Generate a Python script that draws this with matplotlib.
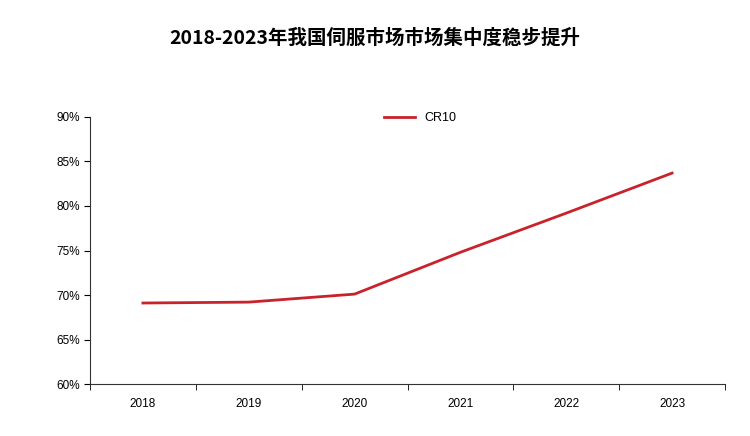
import matplotlib

matplotlib.use("Agg")

import matplotlib.pyplot as plt
import numpy as np
from matplotlib.ticker import FixedLocator

years = ["2018", "2019", "2020", "2021", "2022", "2023"]
cr10 = [69.1, 69.2, 70.1, 74.8, 79.2, 83.7]
y_ticks = [60, 65, 70, 75, 80, 85, 90]

CJK = ["Noto Sans CJK SC", "Noto Sans CJK JP", "Noto Sans CJK TC",
       "Noto Sans CJK KR", "DejaVu Sans"]

fig = plt.figure(figsize=(7.5, 4.36), dpi=100)
ax = fig.add_axes([90 / 750, 1 - 384 / 436, 635 / 750, 267 / 436])

x = np.arange(len(years))
ax.plot(x, cr10, color="#c8232c", linewidth=2, label="CR10")

ax.set_xlim(-0.5, len(years) - 0.5)
ax.set_ylim(60, 90)
ax.set_yticks(y_ticks)
ax.set_yticklabels([f"{v}%" for v in y_ticks], fontsize=8.5, family="Liberation Sans")
ax.set_xticks(x)
ax.set_xticklabels(years, fontsize=8.5, family="Liberation Sans")
ax.tick_params(axis="x", length=0, pad=10)
ax.xaxis.set_minor_locator(FixedLocator(np.arange(-0.5, len(years), 1.0)))
ax.tick_params(axis="x", which="minor", length=4, direction="out")
ax.tick_params(axis="y", length=4, direction="out")
for s in ("top", "right"):
    ax.spines[s].set_visible(False)
for s in ("left", "bottom"):
    ax.spines[s].set_color("#333333")

ax.legend(loc="upper center", bbox_to_anchor=(0.52, 1.06), frameon=False,
          prop={"family": "Liberation Sans", "size": 9}, handlelength=2.5)

fig.text(0.5, 1 - 38 / 436, "2018-2023年我国伺服市场市场集中度稳步提升",
         ha="center", va="center", fontsize=14, fontweight="bold",
         family=CJK)

fig.savefig("out.png", dpi=100)
plt.close(fig)
